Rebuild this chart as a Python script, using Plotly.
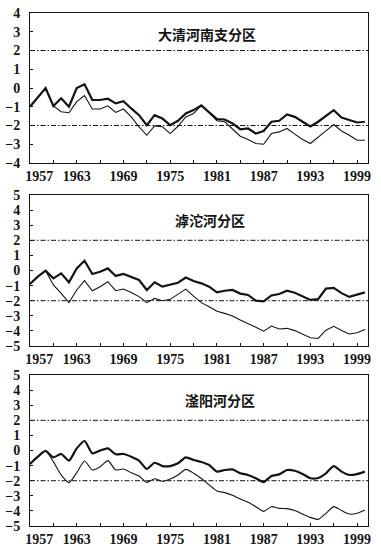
import plotly.graph_objects as go

years = list(range(1957, 2001))

titles = ["大清河南支分区", "滹沱河分区", "滏阳河分区"]

dq_thick = [-1.0, -0.5, 0.0, -0.96, -0.55, -1.0, 0.0, 0.2, -0.64, -0.64, -0.57, -0.82, -0.71, -1.09,
            -1.45, -1.98, -1.45, -1.63, -1.98, -1.75, -1.36, -1.18, -0.93, -1.3, -1.66, -1.68,
            -1.89, -2.2, -2.16, -2.43, -2.29, -1.8, -1.75, -1.41, -1.54, -1.8, -2.05, -1.8, -1.5,
            -1.18, -1.57, -1.71, -1.84, -1.8]
dq_thin = [-1.0, -0.5, 0.0, -0.96, -1.27, -1.32, -0.73, -0.4, -1.12, -1.12, -0.95, -1.3, -1.12, -1.54,
           -2.07, -2.52, -2.02, -2.07, -2.43, -2.04, -1.54, -1.36, -0.93, -1.3, -1.75, -1.8,
           -2.16, -2.57, -2.75, -2.96, -3.0, -2.43, -2.34, -2.16, -2.46, -2.75, -2.96, -2.64,
           -2.29, -1.95, -2.29, -2.52, -2.79, -2.79]

ht_thick = [-0.89, -0.41, -0.01, -0.52, -0.19, -0.78, 0.14, 0.65, -0.23, -0.08, 0.14, -0.36, -0.23,
            -0.45, -0.63, -1.29, -0.78, -1.07, -0.96, -0.81, -0.47, -0.7,
            -0.85, -1.07, -1.45, -1.34, -1.29, -1.53, -1.62, -2.0, -2.05, -1.65, -1.56, -1.34,
            -1.47, -1.69, -1.95, -1.9, -1.2, -1.15, -1.5, -1.75, -1.6, -1.45]
ht_thin = [-0.89, -0.41, -0.01, -0.96, -1.51, -2.13, -1.29, -0.67, -1.34, -1.07, -0.74, -1.34, -1.23,
           -1.45, -1.73, -2.13, -1.85, -2.0, -1.91, -1.56, -1.23, -1.7,
           -2.13, -2.4, -2.7, -2.84, -3.01, -3.28, -3.5, -3.76, -4.02, -3.68, -3.87, -3.83,
           -3.98, -4.21, -4.45, -4.5, -3.95, -3.7, -3.98, -4.2, -4.12, -3.9]

fy_thick = [-0.89, -0.41, -0.03, -0.45, -0.23, -0.67, 0.14, 0.63, -0.19, -0.01, 0.14, -0.25, -0.23,
            -0.41, -0.67, -1.22, -0.81, -1.03, -1.03, -0.85, -0.45, -0.63,
            -0.76, -0.96, -1.4, -1.29, -1.25, -1.51, -1.62, -1.84, -2.09, -1.69, -1.58, -1.29,
            -1.34, -1.56, -1.84, -1.82, -1.51, -1.03, -1.4, -1.62, -1.56, -1.4]
fy_thin = [-0.89, -0.41, -0.03, -0.74, -1.62, -2.13, -1.47, -0.7, -1.29, -1.07, -0.67, -1.29, -1.23,
           -1.47, -1.69, -2.11, -1.87, -2.04, -1.89, -1.62, -1.25, -1.5,
           -1.85, -2.28, -2.68, -2.79, -2.97, -3.21, -3.43, -3.72, -4.03, -3.72, -3.83, -3.85,
           -3.98, -4.21, -4.43, -4.56, -4.16, -3.72, -3.98, -4.21, -4.16, -3.94]

thresholds = [2, -2]
y_ranges = [[-4, 4], [-5, 5], [-5, 5]]
x_tick_labels = [1957, 1963, 1969, 1975, 1981, 1987, 1993, 1999]
x_minor_ticks = list(range(1960, 2000, 3))

series = [(dq_thick, dq_thin), (ht_thick, ht_thin), (fy_thick, fy_thin)]

W, H = 381, 551
# panel pixel extents (top, bottom)
panels_px = [(13, 163), (195, 346), (375, 526)]
title_px = [(207, 34), (210, 220), (220, 400)]
L, R = 30, 13

fig = go.Figure()
INK = "#141414"
tickfont = dict(family="Times New Roman, Liberation Serif, serif", size=14, color=INK,
                weight="bold")

for i, ((thick, thin), (top, bot)) in enumerate(zip(series, panels_px)):
    n = "" if i == 0 else str(i + 1)
    shape = "spline" if i == 2 else "linear"
    fig.add_trace(go.Scatter(x=years, y=thin, mode="lines", xaxis="x" + n, yaxis="y" + n,
                             line=dict(color=INK, width=1.1, shape=shape, smoothing=0.6),
                             showlegend=False, hoverinfo="skip"))
    fig.add_trace(go.Scatter(x=years, y=thick, mode="lines", xaxis="x" + n, yaxis="y" + n,
                             line=dict(color=INK, width=2.2, shape=shape, smoothing=0.6),
                             showlegend=False, hoverinfo="skip"))
    for t in thresholds:
        fig.add_trace(go.Scatter(x=[1957, 2000.4], y=[t, t], mode="lines", xaxis="x" + n,
                                 yaxis="y" + n,
                                 line=dict(color=INK, width=1, dash="5px,2px,1.5px,2px"),
                                 showlegend=False, hoverinfo="skip"))
    dom = [1 - bot / H, 1 - top / H]
    label_pos = [y + (1.2 if y == 1957 else 0) for y in x_tick_labels]
    fig.update_layout(**{
        "xaxis" + n: dict(domain=[0, 1], anchor="y" + n, range=[1957, 2000.4],
                          tickmode="array", tickvals=label_pos,
                          ticktext=[str(y) for y in x_tick_labels], ticks="",
                          minor=dict(tickmode="array", tickvals=x_minor_ticks, ticks="inside",
                                     ticklen=3, tickcolor=INK, tickwidth=1),
                          showgrid=False, zeroline=False, showline=True, mirror=True,
                          linecolor=INK, linewidth=1, tickfont=tickfont,
                          ticklabelstandoff=0),
        "yaxis" + n: dict(domain=dom, anchor="x" + n, range=y_ranges[i], dtick=1,
                          tick0=0, ticks="inside", ticklen=3, tickcolor=INK,
                          showgrid=False, zeroline=False, showline=True, mirror=True,
                          linecolor=INK, linewidth=1, tickfont=tickfont,
                          ticklabelstandoff=6),
    })
    tx, ty = title_px[i]
    fig.add_annotation(text=titles[i], xref="paper", yref="paper",
                       x=(tx - L) / (W - L - R), y=1 - ty / H, showarrow=False,
                       xanchor="center", yanchor="middle",
                       font=dict(family="Noto Sans CJK SC", size=14, color=INK, weight="bold"))

fig.update_layout(width=W, height=H, margin=dict(l=L, r=R, t=0, b=0, autoexpand=False),
                  paper_bgcolor="white", plot_bgcolor="white", showlegend=False)

fig.write_html("out.html", config={"displayModeBar": False},
               post_script="document.body.style.margin='0';document.body.style.overflow='hidden';")
